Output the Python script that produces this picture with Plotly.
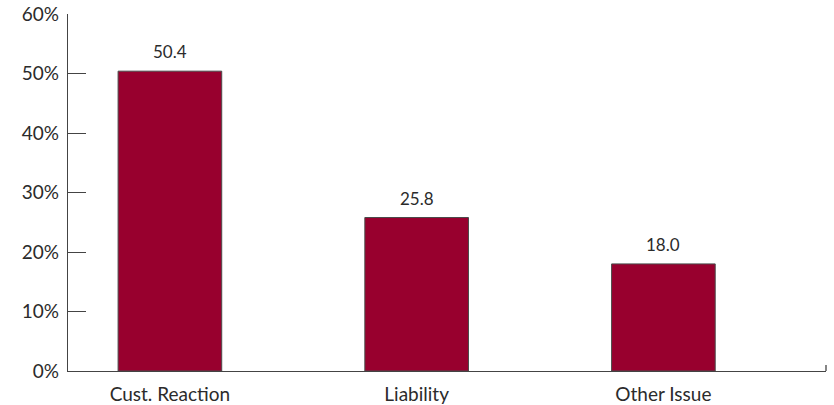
import plotly.graph_objects as go

categories = ["Cust. Reaction", "Liability", "Other Issue"]
values = [50.4, 25.8, 18.0]
value_labels = ["50.4", "25.8", "18.0"]
y_ticks = [0, 10, 20, 30, 40, 50, 60]
y_tick_labels = ["0%", "10%", "20%", "30%", "40%", "50%", "60%"]

FONT = "Lato, Open Sans, sans-serif"
TXT = "#2b2b2b"

fig = go.Figure()
fig.add_trace(go.Bar(
    x=list(range(len(categories))),
    y=values,
    width=0.42,
    marker=dict(color="#98002E", line=dict(color="#4a4a4a", width=1)),
    hoverinfo="skip",
))

for i, (v, lab) in enumerate(zip(values, value_labels)):
    fig.add_annotation(x=i, y=v, text=lab, showarrow=False, yanchor="bottom",
                       yshift=7, font=dict(family=FONT, size=17, color=TXT))

fig.add_shape(type="line", xref="paper", yref="paper", x0=1, x1=1, y0=0, y1=0.017,
              line=dict(color="#444", width=1.3))

fig.update_layout(
    width=834, height=405,
    margin=dict(l=68, r=8, t=14, b=34, autoexpand=False),
    plot_bgcolor="white", paper_bgcolor="white",
    showlegend=False,
    font=dict(family=FONT, size=19, color=TXT),
    xaxis=dict(
        range=[-0.413, 2.659],
        tickmode="array", tickvals=list(range(len(categories))), ticktext=categories,
        showline=True, linecolor="#444", linewidth=1.3,
        ticks="", showgrid=False, zeroline=False,
        ticklabelstandoff=6,
        tickfont=dict(family=FONT, size=19, color=TXT),
    ),
    yaxis=dict(
        range=[0, 60.01],
        tickmode="array", tickvals=y_ticks, ticktext=y_tick_labels,
        showline=True, linecolor="#444", linewidth=1.3,
        ticks="inside", ticklen=18, tickcolor="#444", tickwidth=1.3,
        showgrid=False, zeroline=False,
        ticklabelstandoff=4, ticklabeloverflow="allow",
        tickfont=dict(family=FONT, size=19, color=TXT),
    ),
)

fig.write_html("out.html", config={"displayModeBar": False},
               post_script="document.body.style.margin='0';")
